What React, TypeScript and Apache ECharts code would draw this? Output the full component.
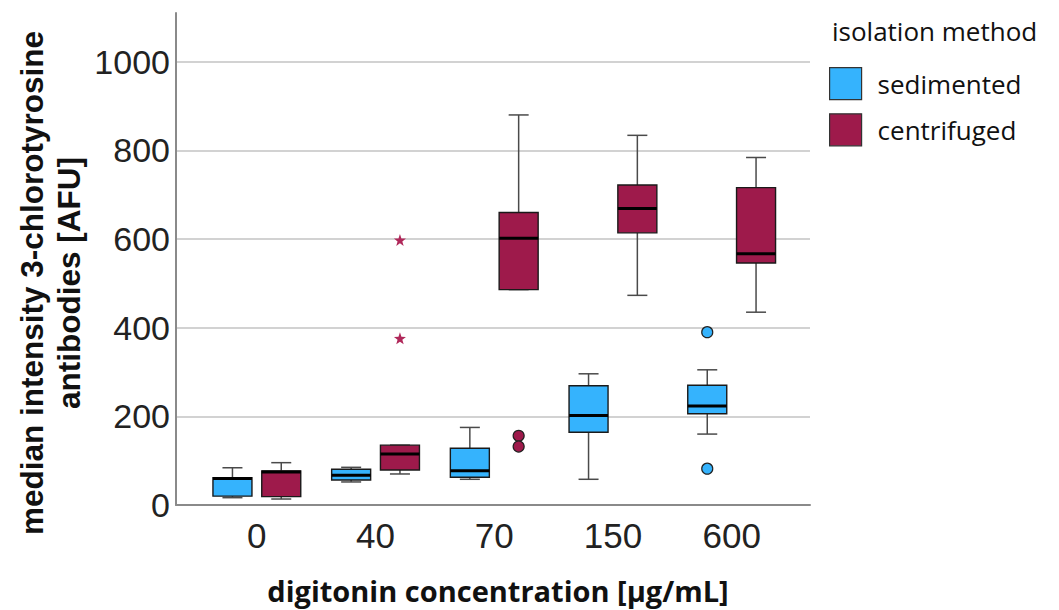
import React, { useEffect, useRef } from "react";
import * as echarts from "echarts";

const categories = ["0", "40", "70", "150", "600"];
// [min, Q1, median, Q3, max]
const sedimentedBoxes = [
  [16.5, 20, 60, 61.6, 84],
  [52, 56.4, 67, 80.5, 85],
  [58, 62.5, 77.4, 128, 175],
  [58, 164, 202, 269, 296],
  [160, 206, 223.5, 270, 305],
];
const centrifugedBoxes = [
  [13.5, 19, 74.5, 77, 95.5],
  [70, 79, 115, 135, 135],
  [486, 486, 602, 660, 880],
  [473, 614, 669, 722, 834],
  [435, 546, 567, 716, 784],
];
const sedimentedOutliers = [
  [4, 390],
  [4, 82],
];
const centrifugedCircleOutliers = [
  [2, 156],
  [2, 132],
];
const centrifugedStarOutliers = [
  [1, 598],
  [1, 376],
];
const yMax = 1110;
const yInterval = 200;

const BLUE = "#35b3fd";
const RED = "#9e1a4b";
const OFFSET = 24.4;
const STAR =
  "path://M0,-10 L2.35,-3.24 L9.51,-3.09 L3.8,1.24 L5.88,8.09 L0,4 L-5.88,8.09 L-3.8,1.24 L-9.51,-3.09 L-2.35,-3.24 Z";

function boxRenderer(offset: number, fill: string) {
  return (_params: any, api: any) => {
    const idx = api.value(0);
    const y = (v: number) => api.coord([idx, v])[1];
    const cx = api.coord([idx, 0])[0] + offset;
    const yMin = y(api.value(1));
    const yQ1 = y(api.value(2));
    const yMed = y(api.value(3));
    const yQ3 = y(api.value(4));
    const yMx = y(api.value(5));
    const hw = 19.5;
    const cap = 10;
    const wStyle = { stroke: "#4a4a4a", lineWidth: 1.5 };
    return {
      type: "group",
      children: [
        { type: "line", shape: { x1: cx, y1: yMx, x2: cx, y2: yQ3 }, style: wStyle },
        { type: "line", shape: { x1: cx, y1: yQ1, x2: cx, y2: yMin }, style: wStyle },
        { type: "line", shape: { x1: cx - cap, y1: yMx, x2: cx + cap, y2: yMx }, style: wStyle },
        { type: "line", shape: { x1: cx - cap, y1: yMin, x2: cx + cap, y2: yMin }, style: wStyle },
        {
          type: "rect",
          shape: { x: cx - hw, y: yQ3, width: hw * 2, height: Math.max(yQ1 - yQ3, 0.5) },
          style: { fill, stroke: "#1a1a1a", lineWidth: 1.4 },
        },
        {
          type: "line",
          shape: { x1: cx - hw, y1: yMed, x2: cx + hw, y2: yMed },
          style: { stroke: "#000", lineWidth: 3 },
        },
      ],
    };
  };
}

export default function App() {
  const ref = useRef<HTMLDivElement>(null);
  useEffect(() => {
    if (!ref.current) return;
    const chart = echarts.init(ref.current, undefined, { renderer: "svg" });
    const tickFont = "'Liberation Sans', Arial, sans-serif";
    chart.setOption({
      animation: false,
      backgroundColor: "#fff",
      title: {
        text: "isolation method",
        left: 832,
        top: 18,
        padding: 0,
        textStyle: { fontFamily: "'Open Sans', sans-serif", fontSize: 26, fontWeight: "normal", color: "#111" },
      },
      legend: {
        orient: "vertical",
        left: 829,
        top: 67,
        padding: 0,
        itemWidth: 32,
        itemHeight: 32,
        itemGap: 13,
        icon: "rect",
        selectedMode: false,
        textStyle: {
          fontFamily: "'Open Sans', sans-serif",
          fontSize: 26,
          color: "#111",
          padding: [0, 0, 0, 11],
        },
        data: [
          { name: "sedimented", itemStyle: { color: BLUE, borderColor: "#333", borderWidth: 1.2 } },
          { name: "centrifuged", itemStyle: { color: RED, borderColor: "#333", borderWidth: 1.2 } },
        ],
      },
      grid: [
        { left: 176, right: 249, top: 13, bottom: 105 },
        { left: 197.5, width: 593.5, top: 13, bottom: 105 },
      ],
      xAxis: [
        {
          type: "value",
          gridIndex: 0,
          min: 0,
          max: 1,
          axisLine: { show: true, lineStyle: { color: "#8a8a8a", width: 2 } },
          axisTick: { show: false },
          axisLabel: { show: false },
          splitLine: { show: false },
        },
        {
          type: "category",
          gridIndex: 1,
          data: categories,
          axisLine: { show: false },
          axisTick: { show: false },
          axisLabel: { fontFamily: tickFont, fontSize: 35, color: "#222", margin: 13 },
          splitLine: { show: false },
        },
      ],
      yAxis: [
        {
          type: "value",
          gridIndex: 0,
          min: 0,
          max: yMax,
          interval: yInterval,
          axisLine: { show: true, lineStyle: { color: "#8a8a8a", width: 2 } },
          axisTick: { show: false },
          axisLabel: {
            fontFamily: tickFont,
            fontSize: 34,
            color: "#222",
            margin: 6,
            showMaxLabel: false,
            formatter: (v: number) => (v % yInterval === 0 ? String(v) : ""),
          },
          splitLine: { show: true, showMaxLine: false, showMinLine: false, lineStyle: { color: "#d2d2d2", width: 2 } },
        },
        {
          type: "value",
          gridIndex: 1,
          min: 0,
          max: yMax,
          show: false,
          splitLine: { show: false },
        },
      ],
      graphic: [
        {
          type: "text",
          x: 50,
          y: 283,
          rotation: Math.PI / 2,
          style: {
            text: "median intensity 3-chlorotyrosine\nantibodies [AFU]",
            fontFamily: "'Liberation Sans', Arial, sans-serif",
            fontWeight: "bold",
            fontSize: 31.5,
            lineHeight: 37,
            align: "center",
            verticalAlign: "middle",
            fill: "#111",
          },
        },
        {
          type: "text",
          x: 498,
          y: 590,
          style: {
            text: "digitonin concentration [µg/mL]",
            fontFamily: "'Open Sans', sans-serif",
            fontWeight: "bold",
            fontSize: 29,
            align: "center",
            verticalAlign: "middle",
            fill: "#111",
          },
        },
      ],
      series: [
        {
          name: "sedimented",
          type: "custom",
          xAxisIndex: 1,
          yAxisIndex: 1,
          itemStyle: { color: BLUE },
          renderItem: boxRenderer(-OFFSET, BLUE),
          encode: { x: 0, y: [1, 2, 3, 4, 5] },
          data: sedimentedBoxes.map((b, i) => [i, ...b]),
        },
        {
          name: "centrifuged",
          type: "custom",
          xAxisIndex: 1,
          yAxisIndex: 1,
          itemStyle: { color: RED },
          renderItem: boxRenderer(OFFSET, RED),
          encode: { x: 0, y: [1, 2, 3, 4, 5] },
          data: centrifugedBoxes.map((b, i) => [i, ...b]),
        },
        {
          name: "sedimented outliers",
          type: "scatter",
          xAxisIndex: 1,
          yAxisIndex: 1,
          symbol: "circle",
          symbolSize: 11,
          symbolOffset: [-OFFSET, 0],
          itemStyle: { color: BLUE, borderColor: "#222", borderWidth: 1.2, opacity: 1 },
          data: sedimentedOutliers,
        },
        {
          name: "centrifuged outliers",
          type: "scatter",
          xAxisIndex: 1,
          yAxisIndex: 1,
          symbol: "circle",
          symbolSize: 11,
          symbolOffset: [OFFSET, 0],
          itemStyle: { color: RED, borderColor: "#222", borderWidth: 1.2, opacity: 1 },
          data: centrifugedCircleOutliers,
        },
        {
          name: "centrifuged extremes",
          type: "scatter",
          xAxisIndex: 1,
          yAxisIndex: 1,
          symbol: STAR,
          symbolSize: 12,
          symbolOffset: [OFFSET, 0],
          itemStyle: { color: "#b0285a", opacity: 1 },
          data: centrifugedStarOutliers,
        },
      ],
    });
    return () => chart.dispose();
  }, []);
  return <div ref={ref} style={{ width: 1059, height: 610, position: "absolute", left: 0, top: 0 }} />;
}
